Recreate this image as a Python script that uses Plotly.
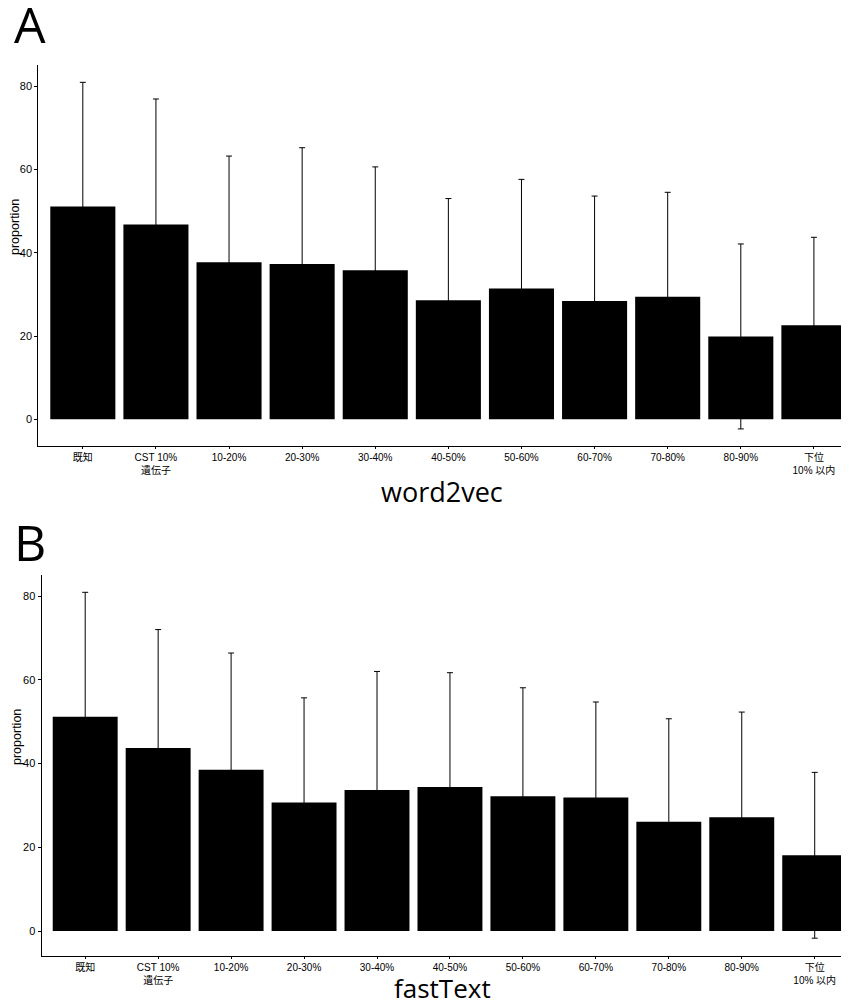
import plotly.graph_objects as go

categories = ["既知", "CST 10%<br>遺伝子", "10-20%", "20-30%", "30-40%", "40-50%",
              "50-60%", "60-70%", "70-80%", "80-90%", "下位<br>10% 以内"]

w2v_mean = [51.1, 46.8, 37.7, 37.3, 35.8, 28.6, 31.4, 28.4, 29.4, 19.9, 22.6]
w2v_err = [29.8, 30.1, 25.5, 27.9, 24.8, 24.4, 26.2, 25.2, 25.1, 22.2, 21.1]

ft_mean = [51.2, 43.7, 38.5, 30.7, 33.7, 34.4, 32.2, 31.9, 26.1, 27.2, 18.1]
ft_err = [29.7, 28.3, 27.9, 25.0, 28.3, 27.3, 25.9, 22.8, 24.6, 25.1, 19.8]

y_ticks = [0, 20, 40, 60, 80]

# page has an 8px body margin; figure sized to fill the rest of the window
OFF = 8.0
W = 849.0 - OFF
H = 1007.0 - OFF

def px_x(x):
    return (x - OFF) / W

def px_y(y):
    return 1 - (y - OFF) / H

fig = go.Figure()

fig.add_trace(go.Bar(
    x=categories, y=w2v_mean, width=0.89,
    marker=dict(color="black", line=dict(width=0)),
    error_y=dict(type="data", array=w2v_err, color="black", thickness=1, width=3),
    xaxis="x", yaxis="y", showlegend=False,
))
fig.add_trace(go.Bar(
    x=categories, y=ft_mean, width=0.89,
    marker=dict(color="black", line=dict(width=0)),
    error_y=dict(type="data", array=ft_err, color="black", thickness=1, width=3),
    xaxis="x2", yaxis="y2", showlegend=False,
))

tick_font = dict(family="Liberation Sans, Noto Sans CJK JP, sans-serif", size=10, color="black")

xcommon = dict(type="category", categoryorder="array", categoryarray=categories,
               showline=True, linecolor="black", linewidth=1, ticks="outside",
               ticklen=2, tickcolor="black", tickwidth=1, showgrid=False,
               zeroline=False, tickfont=tick_font, ticklabelstandoff=0, automargin=False)
ycommon = dict(showline=True, linecolor="black", linewidth=1, ticks="outside",
               ticklen=3, tickcolor="black", tickwidth=1, showgrid=False,
               zeroline=False, tickvals=y_ticks, automargin=False,
               tickfont=dict(family="Liberation Sans, sans-serif", size=11, color="black"))

fig.update_layout(
    width=int(W), height=int(H),
    margin=dict(l=0, r=0, t=0, b=0, autoexpand=False),
    paper_bgcolor="white", plot_bgcolor="white",
    xaxis=dict(domain=[px_x(38.3), 1.0], anchor="y", range=[-0.609, 10.48], **xcommon),
    yaxis=dict(domain=[px_y(446), px_y(65)], anchor="x", range=[-6.4, 85.06], **ycommon),
    xaxis2=dict(domain=[px_x(41.5), 1.0], anchor="y2", range=[-0.599, 10.47], **xcommon),
    yaxis2=dict(domain=[px_y(955.5), px_y(575)], anchor="x2", range=[-5.83, 85.03], **ycommon),
    bargap=0.1,
)

ann_font = "Open Sans, DejaVu Sans, sans-serif"
annotations = [
    dict(text="A", x=px_x(12), y=px_y(24), xanchor="left", yanchor="middle",
         font=dict(family=ann_font, size=50, color="black")),
    dict(text="B", x=px_x(12), y=px_y(542), xanchor="left", yanchor="middle",
         font=dict(family=ann_font, size=50, color="black")),
    dict(text="word2vec", x=px_x(442), y=px_y(492), xanchor="center", yanchor="middle",
         font=dict(family=ann_font, size=27, color="black")),
    dict(text="fastText", x=px_x(442), y=px_y(988), xanchor="center", yanchor="middle",
         font=dict(family=ann_font, size=26, color="black")),
    dict(text="proportion", x=px_x(15), y=px_y(227), xanchor="center", yanchor="middle",
         textangle=-90, font=dict(family="Liberation Sans, sans-serif", size=12.5, color="black")),
    dict(text="proportion", x=px_x(17), y=px_y(737), xanchor="center", yanchor="middle",
         textangle=-90, font=dict(family="Liberation Sans, sans-serif", size=12.5, color="black")),
]
for a in annotations:
    a.update(xref="paper", yref="paper", showarrow=False)
fig.update_layout(annotations=annotations)

fig.write_html("out.html")
